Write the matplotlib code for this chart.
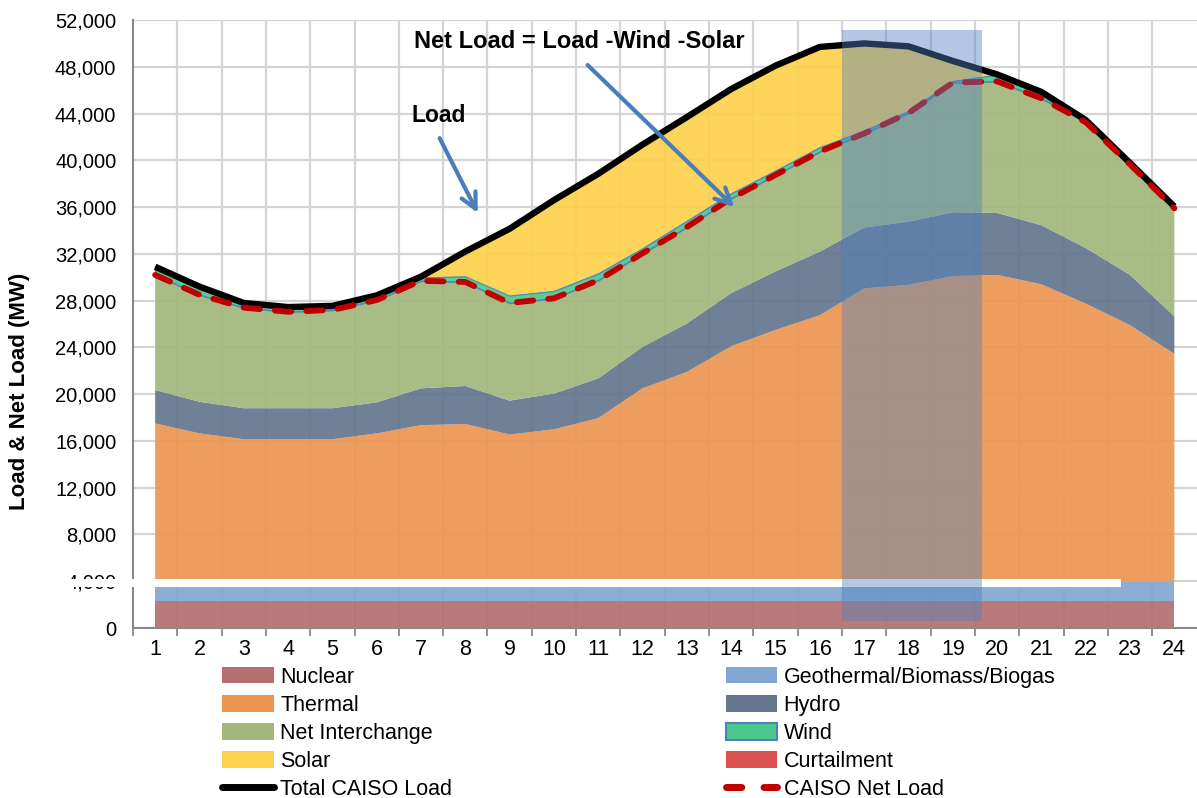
import matplotlib
matplotlib.use("Agg")
import matplotlib.pyplot as plt
from matplotlib.patches import Patch, Rectangle
from matplotlib.lines import Line2D
from matplotlib.transforms import blended_transform_factory

plt.rcParams['font.family'] = ['Liberation Sans', 'DejaVu Sans']

hours = list(range(1, 25))

nuclear = [2280] * 24
geothermal = [1670] * 24
thermal = [13550, 12700, 12200, 12200, 12200, 12700, 13400, 13500, 12600, 13050, 14000, 16550,
           17950, 20150, 21550, 22800, 25100, 25400, 26150, 26250, 25450, 23800, 21950, 19500]
hydro = [2850, 2700, 2650, 2650, 2650, 2650, 3150, 3250, 2900, 3050, 3400, 3550,
         4150, 4550, 5000, 5450, 5200, 5400, 5450, 5300, 5050, 4750, 4300, 3200]
net_interchange = [9850, 9150, 8600, 8250, 8400, 8750, 9200, 8900, 8350, 8150, 8400, 8000,
                   8250, 8100, 8250, 8550, 8050, 9300, 11100, 11250, 10850, 10750, 9450, 9250]
wind = [700, 700, 400, 400, 350, 400, 300, 500, 650, 650, 600, 450,
        550, 450, 400, 400, 250, 200, 150, 600, 550, 200, 120, 150]
solar = [0, 0, 0, 0, 0, 0, 50, 2100, 5700, 7750, 8500, 8850,
         8850, 8900, 8950, 8550, 7450, 5500, 1700, 0, 0, 0, 0, 0]
curtailment = [0] * 24

total_load = [30900, 29200, 27800, 27450, 27550, 28450, 30050, 32200, 34150, 36600, 38850, 41350,
              43700, 46100, 48100, 49700, 50000, 49750, 48500, 47350, 45850, 43450, 39770, 36050]
net_load = [30200, 28500, 27400, 27050, 27200, 28050, 29700, 29600, 27800, 28200, 29750, 32050,
            34300, 36750, 38750, 40750, 42300, 44050, 46650, 46750, 45300, 43250, 39650, 35900]

names = ['Nuclear', 'Geothermal/Biomass/Biogas', 'Thermal', 'Hydro', 'Net Interchange',
         'Wind', 'Solar', 'Curtailment']
colors = ['#b3706f', '#82a6d2', '#ec9550', '#64758e', '#a3b77c', '#4cc98a', '#fed14c', '#d9504f']

fig = plt.figure(figsize=(11.97, 7.98), dpi=100)
ax = fig.add_axes([0.1111, 0.2130, 0.8885, 0.7619])

polys = ax.stackplot(hours, nuclear, geothermal, thermal, hydro, net_interchange, wind, solar,
                     curtailment, colors=colors, alpha=0.92, zorder=2)
polys[5].set_edgecolor('#4f81bd')
polys[5].set_linewidth(1.2)

ax.plot(hours, total_load, color='black', lw=4.6, zorder=4, solid_capstyle='butt')
ax.plot(hours, net_load, color='#c00000', lw=4.2, linestyle=(0, (2.8, 2.6)),
        dash_capstyle='round', zorder=4)

# white break band
tr = blended_transform_factory(ax.transAxes, ax.transData)
ax.add_patch(Rectangle((-0.064, 3500), 0.993, 700, transform=tr, facecolor='white',
                       edgecolor='none', clip_on=False, zorder=5))

# highlighted evening ramp
ax.add_patch(Rectangle((16.5, 600), 3.15, 50550, facecolor='#4f81bd', alpha=0.43,
                       edgecolor='none', zorder=6))

ax.set_xlim(0.5, 24.5)
ax.set_ylim(0, 52000)
ax.set_yticks(range(0, 52001, 4000))
ax.set_yticklabels([f'{v:,}' for v in range(0, 52001, 4000)], fontsize=14.5)
ax.set_xticks(hours)
ax.set_xticklabels([str(h) for h in hours], fontsize=15.5)
ax.set_xticks([h + 0.5 for h in range(0, 24)], minor=True)
ax.tick_params(axis='x', which='major', length=0, pad=8)
ax.tick_params(axis='x', which='minor', length=6, width=1.3, color='#898989')
ax.tick_params(axis='y', length=0, pad=12)
ax.grid(which='minor', axis='x', color='#d4d4d4', lw=1.6, zorder=0)
ax.grid(which='major', axis='y', color='#d4d4d4', lw=1.6, zorder=0)
ax.set_axisbelow(True)
for s in ['top', 'right']:
    ax.spines[s].set_visible(False)
for s in ['left', 'bottom']:
    ax.spines[s].set_color('#898989')
    ax.spines[s].set_linewidth(1.5)

ax.set_ylabel('Load & Net Load (MW)', fontsize=16, fontweight='bold')
ax.yaxis.set_label_coords(-0.097, 0.39)

arrow = dict(arrowstyle='->', color='#4a7ebb', lw=3, mutation_scale=28, shrinkA=0, shrinkB=0)
ax.annotate('', xy=(8.28, 35500), xytext=(7.42, 41900), arrowprops=arrow, zorder=7)
ax.annotate('', xy=(14.07, 36000), xytext=(10.76, 48150), arrowprops=arrow, zorder=7)
ax.text(7.4, 43800, 'Load', fontsize=16.5, fontweight='bold', ha='center', va='center', zorder=7)
ax.text(10.58, 50150, 'Net Load = Load -Wind -Solar', fontsize=17, fontweight='bold',
        ha='center', va='center', zorder=7)

handles = [Patch(facecolor=colors[0]), Patch(facecolor=colors[2]), Patch(facecolor=colors[4]),
           Patch(facecolor=colors[6]), Line2D([], [], color='black', lw=5, solid_capstyle='round'),
           Patch(facecolor=colors[1]), Patch(facecolor=colors[3]),
           Patch(facecolor=colors[5], edgecolor='#4f81bd', lw=1.5), Patch(facecolor=colors[7]),
           Line2D([], [], color='#c00000', lw=5, linestyle=(0, (2.2, 3.2)), dash_capstyle='round')]
labels = ['Nuclear', 'Thermal', 'Net Interchange', 'Solar', 'Total CAISO Load',
          'Geothermal/Biomass/Biogas', 'Hydro', 'Wind', 'Curtailment', 'CAISO Net Load']
fig.legend(handles, labels, ncol=2, loc='upper left', bbox_to_anchor=(0.1855, 0.1645),
           frameon=False, fontsize=15.5, handlelength=2.4, handleheight=0.8,
           handletextpad=0.3, labelspacing=0.33, columnspacing=12.7, borderaxespad=0,
           borderpad=0)

fig.savefig('out.png', dpi=100)
